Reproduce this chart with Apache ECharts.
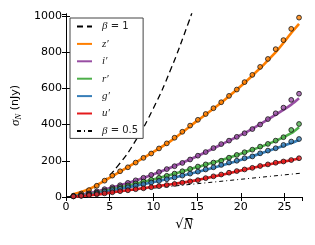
<!DOCTYPE html>
<html>
<head>
<meta charset="utf-8">
<script src="https://cdn.jsdelivr.net/npm/echarts@6/dist/echarts.min.js"></script>
<style>html,body{margin:0;padding:0;background:#fff}#c{width:315px;height:245px}</style>
</head>
<body>
<div id="c"></div>
<script>
// measured points (x = sqrt(N))
const sqrtN = [0.85,1.74,2.63,3.52,4.41,5.3,6.19,7.08,7.97,8.86,9.75,10.64,11.53,12.42,13.31,14.2,15.09,15.98,16.87,17.76,18.65,19.54,20.43,21.32,22.21,23.1,23.99,24.88,25.77,26.66];
const zPts = [7,19,38,62,90,118,142,164,190,216,240,268,296,327,360,394,426,458,490,523,558,593,634,674,718,762,816,866,928,990];
const iPts = [5,11,20,31,43,54,65,78,92,106,122,138,154,170,188,207,228,248,270,292,311,332,352,375,400,430,462,493,536,570];
const rPts = [5,9,15,24,34,45,55,64,75,85,95,106,117,129,142,155,168,180,190,200,217,232,247,261,278,293,311,330,370,403];
const gPts = [4,8,13,20,29,38,46,54,63,71,80,89,98,108,118,129,140,152,164,177,190,200,214,224,241,256,269,287,306,320];
const uPts = [3,6,10,15,20,26,32,37,43,48,54,60,66,72,79,86,93,104,114,124,134,143,152,161,171,180,189,196,204,214];
// fitted curves
const fitX = [0.85,3,6,9,12,15,18,21,24,25.77,26.66];
const zFit = [15,52,135,220,310,420,530,655,800,905,955];
const iFit = [5,25,62,108,163,225,295,368,455,510,545];
const rFit = [4,18,50,85,123,165,207,255,310,352,385];
const gFit = [3,15,43,72,103,138,177,220,268,298,315];
const uFit = [2,11,30,50,70,93,124,157,188,203,212];
// reference power laws
const beta1X = [0,2,4,6,8,10,12,14,14.4];
const beta1Y = [0,20,78,176,314,490,706,960,1016];
const beta05X = [0,27];
const beta05Y = [0,132];

const names = ["z\u2032","i\u2032","r\u2032","g\u2032","u\u2032"];
const colors = ["#ff7f00","#984ea3","#4daf4a","#377eb8","#e41a1c"];
const pts = [zPts,iPts,rPts,gPts,uPts];
const fits = [zFit,iFit,rFit,gFit,uFit];

const zip = (a,b)=>a.map((v,i)=>[v,b[i]]);
const series = [];
series.push({name:"\u03b2 = 1", type:"line", data:zip(beta1X,beta1Y), symbol:"none", smooth:true,
  lineStyle:{color:"#000", width:1.3, type:[6,4]}, itemStyle:{color:"#000"}, z:2});
names.forEach((n,k)=>{
  series.push({name:n, type:"line", data:zip(fitX,fits[k]), symbol:"none", smooth:0.3,
    lineStyle:{color:colors[k], width:2.6}, itemStyle:{color:colors[k]}, z:3});
});
names.forEach((n,k)=>{
  series.push({name:n+"pts", type:"scatter", data:zip(sqrtN,pts[k]), symbol:"circle", symbolSize:4.8,
    itemStyle:{color:colors[k], borderColor:"#111", borderWidth:1}, z:4});
});
series.push({name:"\u03b2 = 0.5", type:"line", data:zip(beta05X,beta05Y), symbol:"none",
  lineStyle:{color:"#000", width:1, type:[4,3,1,3]}, itemStyle:{color:"#000"}, z:2});

const axLine = {show:true, lineStyle:{color:"#000", width:1}};
const tick = {show:true, inside:true, length:4, lineStyle:{color:"#000", width:1}};
const lab = {color:"#000", fontFamily:"DejaVu Sans", fontSize:11, formatter:(v)=>String(v)};

const chart = echarts.init(document.getElementById('c'), null, {renderer:'canvas'});
chart.setOption({
  animation:false,
  backgroundColor:"#fff",
  grid:{left:66, right:13, top:14, bottom:48},
  legend:{
    data:["\u03b2 = 1", ...names, "\u03b2 = 0.5"],
    orient:"vertical", left:70, top:18,
    itemWidth:15, itemHeight:8, itemGap:6.4,
    padding:[3,5,2,6],
    borderColor:"#444", borderWidth:1, backgroundColor:"#fff",
    itemStyle:{opacity:0},
    formatter:function(n){
      if(n.indexOf("\u03b2")===0) return "{m|\u03b2}{t|"+n.slice(1)+"}";
      return "{m|"+n+"}";
    },
    textStyle:{padding:[0,0,0,5], color:"#222",
      rich:{m:{fontFamily:"Liberation Serif", fontStyle:"italic", fontSize:11, color:"#222"},
            t:{fontFamily:"DejaVu Sans", fontSize:10, color:"#222"}}}
  },
  xAxis:[
    {type:"value", min:0, max:27, interval:5, position:"bottom",
     axisLine:axLine, axisTick:tick, splitLine:{show:false},
     axisLabel:Object.assign({margin:5, showMaxLabel:false}, lab),
     name:"\u221a{n|N\u0305}", nameLocation:"middle", nameGap:17,
     nameTextStyle:{fontFamily:"DejaVu Sans", fontSize:13, color:"#000",
       rich:{n:{fontFamily:"Liberation Serif", fontStyle:"italic", fontSize:14, color:"#000"}}}},
    {type:"value", min:0, max:27, interval:5, position:"top",
     axisLine:axLine, axisTick:tick, splitLine:{show:false}, axisLabel:{show:false}}
  ],
  yAxis:[
    {type:"value", min:0, max:1010, interval:200, position:"left",
     axisLine:axLine, axisTick:tick, splitLine:{show:false},
     axisLabel:Object.assign({margin:4, showMaxLabel:false}, lab),
     name:"{m|\u03c3}{s|N} (nJy)", nameLocation:"middle", nameRotate:90, nameGap:35,
     nameTextStyle:{fontFamily:"DejaVu Sans", fontSize:11, color:"#000",
       rich:{m:{fontFamily:"Liberation Serif", fontStyle:"italic", fontSize:13, color:"#000"},
             s:{fontFamily:"Liberation Serif", fontStyle:"italic", fontSize:9, color:"#000", verticalAlign:"bottom", padding:[6,0,0,0]}}}},
    {type:"value", min:0, max:1010, interval:200, position:"right",
     axisLine:axLine, axisTick:tick, splitLine:{show:false}, axisLabel:{show:false}}
  ],
  series:series
});
</script>
</body>
</html>
